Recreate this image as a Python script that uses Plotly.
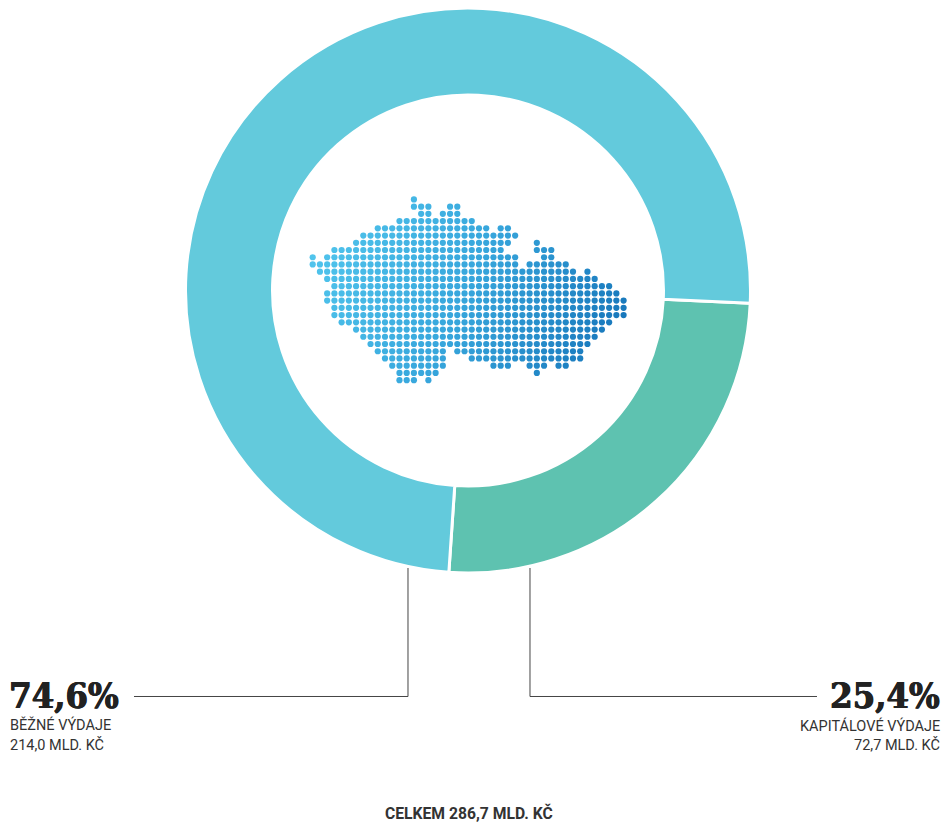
import plotly.graph_objects as go

# Budget split
SLICE_LABELS = ["KAPITÁLOVÉ VÝDAJE", "BĚŽNÉ VÝDAJE"]
SLICE_VALUES = [72.7, 214.0]
SLICE_COLORS = ["#5EC2B0", "#63CADC"]
PCT_TEXT = ["25,4%", "74,6%"]
AMOUNT_TEXT = ["72,7 MLD. KČ", "214,0 MLD. KČ"]
TOTAL_TEXT = "CELKEM 286,7 MLD. KČ"

# Dot map of Czechia: for each grid row, the runs of occupied columns
MAP_ROWS = [
    [(14, 14)],
    [(14, 16), (19, 20)],
    [(15, 16), (18, 20)],
    [(12, 22)],
    [(9, 24), (26, 27)],
    [(7, 28)],
    [(6, 27), (31, 31)],
    [(3, 26), (31, 33)],
    [(0, 0), (2, 28), (32, 33)],
    [(0, 28), (30, 35)],
    [(1, 36), (38, 38)],
    [(2, 39)],
    [(3, 41)],
    [(2, 42)],
    [(2, 43)],
    [(3, 43)],
    [(3, 43)],
    [(4, 41)],
    [(6, 40)],
    [(7, 39)],
    [(8, 38)],
    [(9, 18), (20, 37)],
    [(10, 18), (22, 37)],
    [(11, 18), (25, 27), (30, 32), (34, 35)],
    [(12, 17), (31, 31)],
    [(12, 14), (16, 16)],
]

W, H = 942, 822
CX, CY, R = 468, 290.5, 282.5
PITCH = 7.23
MAP_LEFT, MAP_TOP = 312.7, 199.4

cols, rows = [], []
for r, spans in enumerate(MAP_ROWS):
    for a, b in spans:
        for c in range(a, b + 1):
            cols.append(c)
            rows.append(r)

fig = go.Figure()
fig.add_trace(go.Pie(
    labels=SLICE_LABELS, values=SLICE_VALUES, sort=False, direction="clockwise",
    rotation=92.6, hole=0.692, textinfo="none", hoverinfo="label+value",
    marker=dict(colors=SLICE_COLORS, line=dict(color="#ffffff", width=3)),
    domain=dict(x=[(CX - R) / W, (CX + R) / W], y=[1 - (CY + R) / H, 1 - (CY - R) / H]),
    showlegend=False,
))
fig.add_trace(go.Scatter(
    x=cols, y=rows, mode="markers", hoverinfo="skip", showlegend=False, cliponaxis=False,
    marker=dict(size=6.2, line=dict(width=0),
                color=[c + 0.45 * r for c, r in zip(cols, rows)],
                colorscale=[[0, "#50C4EC"], [0.5, "#37A6DC"], [1, "#1878BC"]]),
))


def line(pts):
    return dict(type="path", xref="paper", yref="paper",
                path="M " + " L ".join(f"{x / W:.5f},{1 - y / H:.5f}" for x, y in pts),
                line=dict(color="#444444", width=1))


def note(x, y, text, size, anchor, color="#333333", family="Roboto", bold=False, shadow=None, **extra):
    t = f"<b>{text}</b>" if bold else text
    font = dict(family=family, size=size, color=color)
    if shadow:
        font["shadow"] = shadow
    return dict(xref="paper", yref="paper", x=x / W, y=1 - y / H, text=t, showarrow=False,
                xanchor=anchor, yanchor="middle", align=anchor, font=font, **extra)


SLAB = "DejaVu Serif Condensed, DejaVu Serif"
THICK = "0.7px 0 0 #222222, -0.4px 0 0 #222222"
fig.update_layout(
    width=W, height=H, margin=dict(l=0, r=0, t=0, b=0), autosize=False,
    paper_bgcolor="#ffffff", plot_bgcolor="rgba(0,0,0,0)", showlegend=False,
    xaxis=dict(visible=False, range=[0, 43],
               domain=[MAP_LEFT / W, (MAP_LEFT + 43 * PITCH) / W]),
    yaxis=dict(visible=False, range=[25, 0],
               domain=[1 - (MAP_TOP + 25 * PITCH) / H, 1 - MAP_TOP / H]),
    shapes=[
        line([(134, 696.5), (408, 696.5), (408, 568)]),
        line([(530, 568), (530, 696.5), (817, 696.5)]),
    ],
    annotations=[
        note(7, 695, PCT_TEXT[1], 36, "left", "#222222", SLAB, True, THICK),
        note(8, 725, SLICE_LABELS[1], 14.5, "left"),
        note(8, 745, AMOUNT_TEXT[1], 14.5, "left"),
        note(942, 695, PCT_TEXT[0], 36, "right", "#222222", SLAB, True, THICK),
        note(942, 726, SLICE_LABELS[0], 14.5, "right"),
        note(942, 745, AMOUNT_TEXT[0], 14.5, "right"),
        note(469, 812.5, TOTAL_TEXT, 15.7, "center", "#333333", "Roboto", True, borderpad=0),
    ],
)
fig.write_html("out.html", config={"displayModeBar": False},
               post_script="document.body.style.margin='0';document.body.style.overflow='hidden';")
